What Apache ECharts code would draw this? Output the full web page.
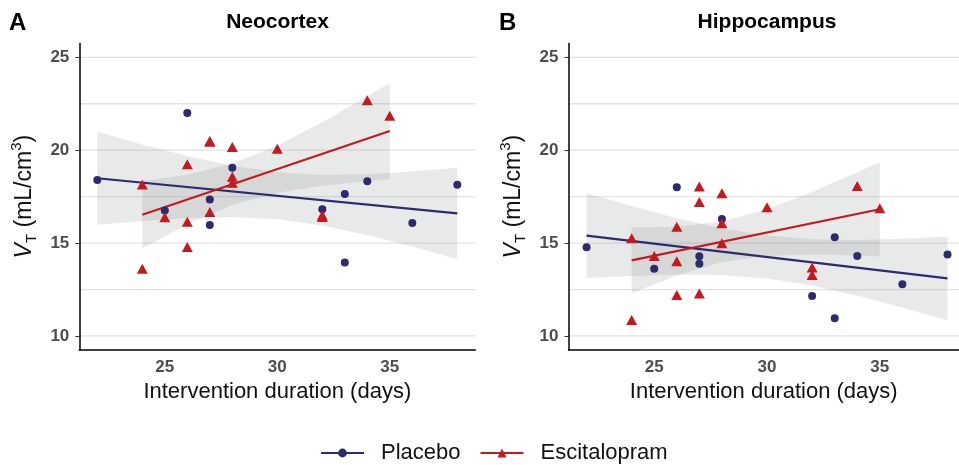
<!DOCTYPE html>
<html>
<head>
<meta charset="utf-8">
<script src="https://cdn.jsdelivr.net/npm/echarts@6/dist/echarts.min.js"></script>
<style>html,body{margin:0;padding:0;background:#fff;}#c{width:959px;height:465px;}</style>
</head>
<body>
<div id="c"></div>
<script>
// ---- data ----
const placeboDays = [22, 25, 26, 27, 27, 28, 32, 33, 33, 34, 36, 38];
const placeboNeo  = [18.4, 16.75, 22.0, 17.35, 15.97, 19.05, 16.82, 17.64, 13.95, 18.33, 16.08, 18.14];
const placeboHip  = [14.77, 13.62, 18.0, 14.29, 13.89, 16.3, 12.15, 15.31, 10.95, 14.31, 12.78, 14.38];

const escDays = [24, 24, 25, 26, 26, 26, 27, 27, 27, 28, 28, 28, 30, 32, 32, 34, 35];
const escNeo  = [18.16, 13.62, 16.39, 19.24, 16.15, 14.79, 20.5, 20.45, 16.67, 20.17, 18.57, 18.25, 20.08, 16.5, 16.4, 22.69, 21.86];
const escHip  = [15.26, 10.86, 14.31, 15.88, 14.02, 12.21, 18.04, 17.21, 12.28, 17.68, 16.07, 14.99, 16.93, 13.68, 13.28, 18.07, 16.87];

// fitted lines (end points)
const fitDaysPlacebo = [22, 38];
const fitPlaceboNeo  = [18.49, 16.6];
const fitPlaceboHip  = [15.4, 13.1];
const fitDaysEsc = [24, 35];
const fitEscNeo  = [16.53, 21.03];
const fitEscHip  = [14.07, 16.82];

// confidence bands
const bandDaysPlacebo = [22, 24, 26, 28, 30, 32, 34, 36, 38];
const placeboNeoLo = [15.99, 16.19, 16.35, 16.40, 16.29, 15.95, 15.43, 14.82, 14.14];
const placeboNeoHi = [20.99, 20.31, 19.69, 19.16, 18.81, 18.67, 18.71, 18.86, 19.06];
const placeboHipLo = [13.12, 13.23, 13.30, 13.28, 13.09, 12.72, 12.17, 11.53, 10.85];
const placeboHipHi = [17.68, 16.99, 16.34, 15.80, 15.41, 15.20, 15.17, 15.23, 15.35];
const bandDaysEsc = [24, 26, 28, 30, 32, 34, 35];
const escNeoLo = [14.72, 16.02, 17.06, 17.71, 18.09, 18.34, 18.45];
const escNeoHi = [18.34, 18.68, 19.28, 20.25, 21.51, 22.90, 23.61];
const escHipLo = [12.30, 13.26, 13.98, 14.32, 14.39, 14.33, 14.28];
const escHipHi = [15.84, 15.88, 16.16, 16.82, 17.75, 18.81, 19.36];

const xTicks = [25, 30, 35];
const yTicks = [10, 15, 20, 25];
const yGridLines = [10, 12.5, 15, 17.5, 20, 22.5, 25];
const panelTitles = ['Neocortex', 'Hippocampus'];
const panelTags = ['A', 'B'];
const xTitle = 'Intervention duration (days)';
const seriesNames = ['Placebo', 'Escitalopram'];

// ---- styling ----
const BLUE = '#2d2a6e';
const RED = '#c21a1f';
const RIBBON = 'rgba(150,153,153,0.22)';
const FONT = '"Liberation Sans", Arial, Helvetica, sans-serif';
const X_MIN = 21.2;
const X_MAX = [38.8, 38.51]; // right panel is cut by the figure edge

const chart = echarts.init(document.getElementById('c'), null, {renderer: 'canvas'});

function xAxisCfg(idx) {
  return {
    type: 'value', gridIndex: idx, min: X_MIN, max: X_MAX[idx],
    name: xTitle, nameLocation: 'middle', nameGap: 30,
    nameTextStyle: {fontFamily: FONT, fontSize: 22, color: '#111'},
    axisLine: {show: true, onZero: false, lineStyle: {color: '#000', width: 1.5}},
    axisTick: {show: false},
    axisLabel: {customValues: xTicks, margin: 9, fontFamily: FONT, fontSize: 17, fontWeight: 'bold', color: '#4d4d4d'},
    splitLine: {show: false}
  };
}
function yAxisCfg(idx) {
  return {
    type: 'value', gridIndex: idx, min: 9.25, max: 25.75,
    name: '{v|V}{s|T}{n| (mL/cm}{p|3}{n|)}',
    nameLocation: 'middle', nameGap: 40, nameRotate: 90,
    nameTextStyle: {
      fontFamily: FONT, fontSize: 23, color: '#111',
      rich: {
        v: {fontFamily: FONT, fontSize: 23, fontStyle: 'italic', color: '#111', lineHeight: 30, verticalAlign: 'middle'},
        n: {fontFamily: FONT, fontSize: 23, color: '#111', lineHeight: 30, verticalAlign: 'middle'},
        s: {fontFamily: FONT, fontSize: 15, color: '#111', lineHeight: 15, verticalAlign: 'bottom'},
        p: {fontFamily: FONT, fontSize: 15, color: '#111', lineHeight: 15, verticalAlign: 'top'}
      }
    },
    axisLine: {show: true, onZero: false, lineStyle: {color: '#000', width: 1.5}},
    axisTick: {show: true, customValues: yTicks, length: 4, lineStyle: {color: '#333', width: 1}},
    axisLabel: {customValues: yTicks, margin: 10, fontFamily: FONT, fontSize: 17, fontWeight: 'bold', color: '#4d4d4d'},
    splitLine: {show: false}
  };
}

function gridLines(idx) {
  return {
    type: 'custom', name: 'gridlines', xAxisIndex: idx, yAxisIndex: idx, silent: true, z: 0,
    data: yGridLines.map(v => [X_MIN, v]),
    encode: {x: 0, y: 1},
    renderItem: function (params, api) {
      const v = api.value(1);
      const p1 = api.coord([X_MIN, v]);
      const p2 = api.coord([X_MAX[idx], v]);
      return {type: 'line', shape: {x1: p1[0], y1: p1[1], x2: p2[0], y2: p2[1]},
              style: {stroke: '#e2e2e2', lineWidth: 1.3}};
    }
  };
}
function ribbon(idx, days, lo, hi) {
  return {
    type: 'custom', name: 'band', xAxisIndex: idx, yAxisIndex: idx, silent: true, z: 1,
    data: days.map((d, i) => [d, lo[i], hi[i]]),
    encode: {x: 0, y: [1, 2]},
    renderItem: function (params, api) {
      if (params.dataIndex !== 0) return null;
      const pts = [];
      for (let i = 0; i < days.length; i++) pts.push(api.coord([days[i], hi[i]]));
      for (let i = days.length - 1; i >= 0; i--) pts.push(api.coord([days[i], lo[i]]));
      return {type: 'polygon', shape: {points: pts}, style: {fill: RIBBON}};
    }
  };
}
function fitLine(idx, name, days, vals, color, symbol) {
  return {
    type: 'line', name: name, xAxisIndex: idx, yAxisIndex: idx, z: 3,
    data: days.map((d, i) => [d, vals[i]]),
    symbol: symbol, showSymbol: false, silent: true,
    lineStyle: {color: color, width: 2.2}, itemStyle: {color: color}
  };
}
function points(idx, name, days, vals, color, symbol, size) {
  return {
    type: 'scatter', name: name, xAxisIndex: idx, yAxisIndex: idx, z: 4,
    data: days.map((d, i) => [d, vals[i]]),
    symbol: symbol, symbolSize: size, itemStyle: {color: color, opacity: 1}
  };
}

const series = [
  fitLine(0, seriesNames[0], fitDaysPlacebo, fitPlaceboNeo, BLUE, 'circle'),
  fitLine(0, seriesNames[1], fitDaysEsc, fitEscNeo, RED, 'triangle'),
  fitLine(1, seriesNames[0], fitDaysPlacebo, fitPlaceboHip, BLUE, 'circle'),
  fitLine(1, seriesNames[1], fitDaysEsc, fitEscHip, RED, 'triangle'),
  gridLines(0), gridLines(1),
  ribbon(0, bandDaysPlacebo, placeboNeoLo, placeboNeoHi),
  ribbon(0, bandDaysEsc, escNeoLo, escNeoHi),
  ribbon(1, bandDaysPlacebo, placeboHipLo, placeboHipHi),
  ribbon(1, bandDaysEsc, escHipLo, escHipHi),
  points(0, seriesNames[0], placeboDays, placeboNeo, BLUE, 'circle', 8),
  points(0, seriesNames[1], escDays, escNeo, RED, 'triangle', [11, 10]),
  points(1, seriesNames[0], placeboDays, placeboHip, BLUE, 'circle', 8),
  points(1, seriesNames[1], escDays, escHip, RED, 'triangle', [11, 10])
];

const option = {
  animation: false,
  backgroundColor: '#fff',
  grid: [
    {left: 79.3, top: 43.4, width: 396, height: 306.5, containLabel: false},
    {left: 568.5, top: 43.4, width: 390.5, height: 306.5, containLabel: false}
  ],
  xAxis: [xAxisCfg(0), xAxisCfg(1)],
  yAxis: [yAxisCfg(0), yAxisCfg(1)],
  legend: {
    data: seriesNames.map(n => ({name: n})),
    left: 315, top: 437, itemWidth: 43, itemHeight: 11, itemGap: 19,
    textStyle: {fontFamily: FONT, fontSize: 22, color: '#111', padding: [0, 0, 0, 12]},
    selectedMode: false
  },
  graphic: [
    {type: 'text', left: 9, top: 11, style: {text: panelTags[0], font: 'bold 24px ' + FONT, fill: '#000'}},
    {type: 'text', left: 499, top: 11, style: {text: panelTags[1], font: 'bold 24px ' + FONT, fill: '#000'}},
    {type: 'text', x: 277.5, y: 22.5, style: {text: panelTitles[0], font: 'bold 21px ' + FONT, fill: '#000', align: 'center', verticalAlign: 'middle'}},
    {type: 'text', x: 767, y: 22.5, style: {text: panelTitles[1], font: 'bold 21px ' + FONT, fill: '#000', align: 'center', verticalAlign: 'middle'}}
  ],
  series: series
};
chart.setOption(option);
</script>
</body>
</html>
